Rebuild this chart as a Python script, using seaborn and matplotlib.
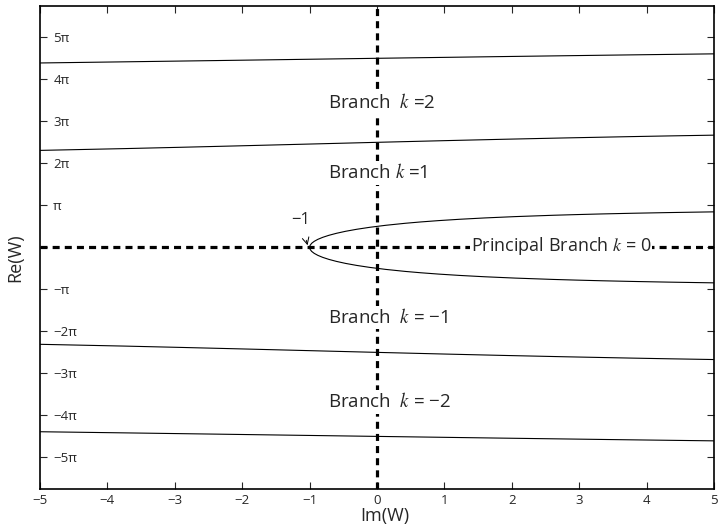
import matplotlib
matplotlib.use("Agg")
import matplotlib.pyplot as plt
import seaborn as sns

# boundary curves of the Lambert W branches
# x values, y values in units of pi
principal_x = [5.0, 4.32, 3.795, 3.346, 2.963, 2.620, 2.055, 1.601, 1.228, 0.915, 0.649, 0.420,
               0.131, -0.106, -0.303, -0.467, -0.602, -0.714, -0.805, -0.877, -0.9315, -0.970,
               -0.9925, -1.0,
               -0.9925, -0.970, -0.9315, -0.877, -0.805, -0.714, -0.602, -0.467, -0.303, -0.106,
               0.131, 0.420, 0.649, 0.915, 1.228, 1.601, 2.055, 2.620, 2.963, 3.346, 3.795, 4.32, 5.0]
principal_y = [0.845, 0.8276, 0.8117, 0.7958, 0.7799, 0.764, 0.7321, 0.7003, 0.6685, 0.6366,
               0.6048, 0.573, 0.5252, 0.4775, 0.4297, 0.382, 0.3342, 0.2865, 0.2387, 0.191,
               0.1432, 0.0955, 0.0477, 0.0,
               -0.0477, -0.0955, -0.1432, -0.191, -0.2387, -0.2865, -0.3342, -0.382, -0.4297,
               -0.4775, -0.5252, -0.573, -0.6048, -0.6366, -0.6685, -0.7003, -0.7321, -0.764,
               -0.7799, -0.7958, -0.8117, -0.8276, -0.845]

k1_x = [-5.0, -3.758, -2.909, -2.105, -1.325, 0.0, 1.037, 1.886, 2.795, 3.791, 4.330, 5.0]
k1_y = [2.308, 2.350, 2.382, 2.4138, 2.4456, 2.5, 2.5411, 2.573, 2.6048, 2.6366, 2.6525, 2.6706]
km1_x = [-5.0, -3.758, -2.909, -2.105, -1.325, 0.0, 1.037, 1.886, 2.795, 3.791, 4.330, 5.0]
km1_y = [-2.308, -2.350, -2.382, -2.4138, -2.4456, -2.5, -2.5411, -2.573, -2.6048, -2.6366,
         -2.6525, -2.6706]

k2_x = [-5.0, -3.849, -2.409, -0.997, 0.0, 1.853, 3.352, 4.133, 5.0]
k2_y = [4.389, 4.4138, 4.4456, 4.4775, 4.5, 4.5411, 4.573, 4.5889, 4.606]
km2_x = [-5.0, -3.849, -2.409, -0.997, 0.0, 1.853, 3.352, 4.133, 5.0]
km2_y = [-4.389, -4.4138, -4.4456, -4.4775, -4.5, -4.5411, -4.573, -4.5889, -4.606]

x_ticks = [-5, -4, -3, -2, -1, 0, 1, 2, 3, 4, 5]
x_tick_labels = ["\u22125", "\u22124", "\u22123", "\u22122", "\u22121", "0", "1", "2", "3", "4", "5"]
y_ticks = [-5, -4, -3, -2, -1, 0, 1, 2, 3, 4, 5]
y_tick_labels = ["\u22125\u03c0", "\u22124\u03c0", "\u22123\u03c0", "\u22122\u03c0", "\u2212\u03c0", "",
                 "\u03c0", "2\u03c0", "3\u03c0", "4\u03c0", "5\u03c0"]

branch_labels = ["Branch  $k$ =2", "Branch $k$ =1", "Branch  $k$ = \u22121", "Branch  $k$ = \u22122"]
branch_label_y = [3.44, 1.77, -1.66, -3.68]

sns.set_style("ticks")
plt.rcParams["font.family"] = ["Open Sans", "DejaVu Sans"]
plt.rcParams["mathtext.fontset"] = "stix"

fig = plt.figure(figsize=(7.2, 5.27), dpi=100)
ax = fig.add_axes([40 / 720, 38.3 / 527, 674 / 720, 482.7 / 527])

curves = [(principal_x, principal_y), (k1_x, k1_y), (km1_x, km1_y), (k2_x, k2_y), (km2_x, km2_y)]
for cx, cy in curves:
    sns.lineplot(x=cx, y=cy, sort=False, estimator=None, color="black", lw=0.8, ax=ax, zorder=2)

# dashed axes through the origin
ax.axhline(0, color="black", lw=2.3, linestyle=(0, (2.2, 1.6)), zorder=1)
ax.axvline(0, color="black", lw=2.3, linestyle=(0, (2.2, 1.6)), zorder=1)

box = dict(facecolor="white", edgecolor="none", pad=1.5)
for lbl, ly in zip(branch_labels, branch_label_y):
    ax.text(-0.72, ly, lbl, ha="left", va="center", fontsize=13.5, bbox=box, zorder=3)
ax.text(2.73, 0.04, "Principal Branch $k$ = 0", ha="center", va="center", fontsize=13,
        bbox=dict(facecolor="white", edgecolor="none", pad=0.5), zorder=3)

ax.annotate("\u22121", xy=(-1.03, 0.05), xytext=(-1.13, 0.66), ha="center", va="center",
            fontsize=12, arrowprops=dict(arrowstyle="->", lw=0.7, color="black",
                                         shrinkA=7, shrinkB=0))

ax.set_xlim(-5, 5)
ax.set_ylim(-5.745, 5.745)
ax.set_xticks(x_ticks)
ax.set_xticklabels(x_tick_labels)
ax.set_yticks(y_ticks)
ax.set_yticklabels(y_tick_labels)
ax.tick_params(axis="both", direction="in", top=True, right=True, length=5, width=0.8, labelsize=9.5)
ax.tick_params(axis="x", pad=4)
ax.tick_params(axis="y", pad=-9.5)
for t in ax.get_yticklabels():
    t.set_horizontalalignment("left")
for s in ax.spines.values():
    s.set_linewidth(1.2)
    s.set_color("black")

ax.set_xlabel("Im(W)", fontsize=13)
ax.set_ylabel("Re(W)", fontsize=13)
ax.xaxis.set_label_coords(0.512, -0.037)
ax.yaxis.set_label_coords(-0.0235, 0.478)

fig.savefig("out.png", dpi=100)
